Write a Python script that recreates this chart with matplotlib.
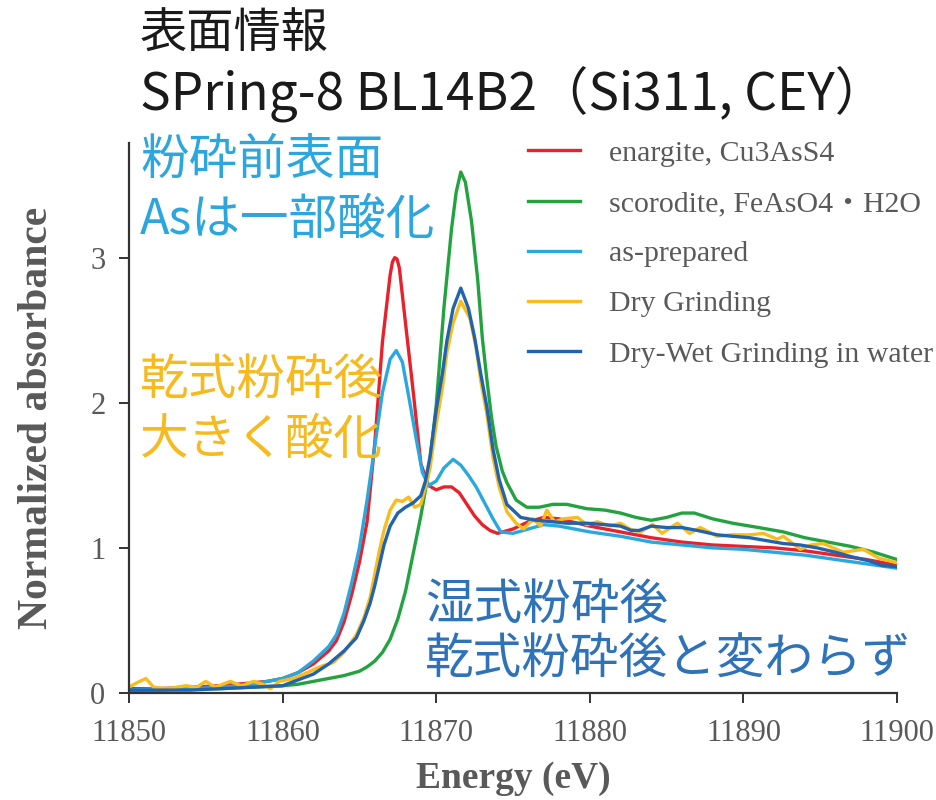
import matplotlib
matplotlib.use("Agg")
import matplotlib.pyplot as plt

# energy (eV) / normalized absorbance
enargite_x = [11850, 11852, 11854, 11856, 11858, 11859, 11860, 11861, 11862, 11863,
              11863.5, 11864, 11864.5, 11865, 11865.5, 11866, 11866.5, 11867, 11867.15, 11867.3,
              11867.45, 11867.6, 11868, 11868.5, 11869, 11869.5, 11870, 11870.5, 11871, 11871.5,
              11872, 11872.5, 11873, 11873.5, 11874, 11875, 11876, 11877, 11878, 11880,
              11882, 11884, 11886, 11888, 11890, 11892, 11894, 11896, 11898, 11900]
enargite_y = [0.03, 0.03, 0.04, 0.05, 0.07, 0.08, 0.10, 0.14, 0.20, 0.29,
              0.36, 0.49, 0.68, 0.90, 1.18, 1.72, 2.42, 2.88, 2.97, 3.00,
              2.99, 2.93, 2.55, 2.08, 1.58, 1.43, 1.40, 1.42, 1.42, 1.38,
              1.30, 1.22, 1.16, 1.12, 1.10, 1.13, 1.18, 1.21, 1.20, 1.15,
              1.11, 1.07, 1.04, 1.02, 1.01, 1.00, 0.98, 0.95, 0.92, 0.88]

scorodite_x = [11850, 11852, 11854, 11856, 11858, 11860, 11861, 11862, 11863, 11864,
               11865, 11865.5, 11866, 11866.5, 11867, 11867.5, 11868, 11868.5, 11869, 11869.5,
               11870, 11870.5, 11871, 11871.3, 11871.6, 11871.9, 11872.3, 11872.7, 11873, 11873.3,
               11873.6, 11873.9, 11874.3, 11874.6, 11875.2, 11875.9, 11876.7, 11877.6, 11878.5, 11879.8,
               11881, 11882, 11883, 11884, 11885, 11886, 11886.8, 11888, 11889.3, 11891,
               11892.6, 11894, 11895.5, 11897, 11898.5, 11900]
scorodite_y = [0.02, 0.02, 0.03, 0.03, 0.04, 0.05, 0.06, 0.08, 0.10, 0.12,
               0.15, 0.18, 0.22, 0.28, 0.37, 0.51, 0.70, 0.96, 1.22, 1.52,
               1.98, 2.65, 3.20, 3.45, 3.59, 3.52, 3.25, 2.85, 2.45, 2.16,
               1.90, 1.70, 1.53, 1.45, 1.33, 1.28, 1.28, 1.30, 1.30, 1.27,
               1.26, 1.24, 1.21, 1.19, 1.21, 1.24, 1.24, 1.20, 1.17, 1.14,
               1.11, 1.07, 1.04, 1.01, 0.97, 0.92]

prepared_x = [11850, 11852, 11854, 11856, 11858, 11859, 11860, 11861, 11862, 11863,
              11863.5, 11864, 11864.5, 11865, 11865.5, 11866, 11866.5, 11867, 11867.4, 11867.8,
              11868.2, 11868.7, 11869.1, 11869.5, 11870, 11870.5, 11871.1, 11871.6, 11872.1, 11872.6,
              11873.2, 11873.7, 11874.2, 11875, 11876, 11877, 11878, 11880, 11882, 11884,
              11886, 11888, 11890, 11892, 11894, 11896, 11898, 11900]
prepared_y = [0.02, 0.03, 0.03, 0.04, 0.06, 0.08, 0.10, 0.14, 0.22, 0.32,
              0.40, 0.55, 0.76, 1.00, 1.33, 1.70, 2.07, 2.30, 2.36, 2.28,
              2.05, 1.75, 1.52, 1.43, 1.46, 1.55, 1.61, 1.57, 1.50, 1.42,
              1.30, 1.20, 1.11, 1.10, 1.13, 1.16, 1.15, 1.11, 1.08, 1.04,
              1.02, 1.00, 0.99, 0.97, 0.95, 0.92, 0.89, 0.86]

dry_x = [11850, 11850.5, 11851.1, 11851.6, 11852.5, 11853.7, 11854.4, 11855, 11855.6, 11856.6,
         11857.3, 11858.1, 11858.7, 11859.2, 11859.8, 11860.7, 11861.6, 11862.4, 11863.3, 11864,
         11864.8, 11865.3, 11865.7, 11866, 11866.3, 11866.6, 11867, 11867.4, 11867.8, 11868.2,
         11868.6, 11869, 11869.3, 11869.6, 11870, 11870.4, 11870.7, 11871.1, 11871.6, 11872.2,
         11872.6, 11872.9, 11873.3, 11873.7, 11874.1, 11874.6, 11875.2, 11875.7, 11876.3, 11876.8,
         11877.2, 11877.7, 11878.3, 11879.2, 11879.8, 11880.5, 11881.3, 11882, 11882.6, 11883.3,
         11884.1, 11884.7, 11885.7, 11886.5, 11887.2, 11888.3, 11889.2, 11890.4, 11891.3, 11892.2,
         11892.6, 11893.7, 11894.4, 11895.2, 11896.5, 11897.8, 11898.8, 11899.9]
dry_y = [0.04, 0.07, 0.10, 0.04, 0.03, 0.05, 0.04, 0.08, 0.04, 0.08,
         0.05, 0.08, 0.06, 0.03, 0.08, 0.10, 0.14, 0.18, 0.21, 0.28,
         0.40, 0.52, 0.66, 0.82, 0.98, 1.12, 1.26, 1.33, 1.32, 1.35,
         1.28, 1.30, 1.42, 1.55, 1.85, 2.10, 2.35, 2.55, 2.70, 2.58,
         2.38, 2.15, 1.92, 1.62, 1.42, 1.25, 1.17, 1.13, 1.20, 1.15,
         1.26, 1.18, 1.20, 1.21, 1.16, 1.18, 1.15, 1.17, 1.13, 1.11,
         1.16, 1.10, 1.17, 1.10, 1.14, 1.08, 1.09, 1.09, 1.10, 1.06,
         1.08, 0.99, 1.02, 1.03, 0.97, 0.99, 0.93, 0.90]

wet_x = [11850, 11852, 11854, 11856, 11858, 11860, 11861, 11862, 11863, 11864,
         11864.8, 11865.3, 11865.7, 11866, 11866.3, 11866.6, 11867, 11867.5, 11868, 11868.5,
         11869, 11869.3, 11869.6, 11870, 11870.4, 11870.7, 11871.1, 11871.6, 11872.1, 11872.5,
         11872.9, 11873.3, 11873.7, 11874.1, 11874.6, 11875.5, 11876.5, 11877.6, 11878.5, 11879.8,
         11881, 11882, 11882.7, 11883.2, 11884, 11885, 11886, 11887, 11888.3, 11889.3,
         11890.4, 11891.5, 11892.6, 11893.7, 11894.8, 11896, 11897, 11898.2, 11899, 11900]
wet_y = [0.02, 0.02, 0.02, 0.03, 0.04, 0.05, 0.09, 0.13, 0.20, 0.29,
         0.38, 0.50, 0.62, 0.74, 0.88, 1.02, 1.15, 1.24, 1.28, 1.31,
         1.36, 1.46, 1.63, 1.95, 2.20, 2.43, 2.65, 2.79, 2.65, 2.45,
         2.20, 1.97, 1.68, 1.47, 1.30, 1.21, 1.19, 1.18, 1.17, 1.17,
         1.16, 1.15, 1.12, 1.12, 1.15, 1.14, 1.14, 1.12, 1.09, 1.08,
         1.07, 1.05, 1.03, 1.02, 1.00, 0.97, 0.94, 0.91, 0.88, 0.87]

labels = ["enargite, Cu3AsS4", "scorodite, FeAsO4\u30fbH2O", "as-prepared",
          "Dry Grinding", "Dry-Wet Grinding in water"]
colors = ["#E8212B", "#22A33F", "#29A8E0", "#F9BC1C", "#2163AE"]

x_ticks = [11850, 11860, 11870, 11880, 11890, 11900]
y_ticks = [0, 1, 2, 3]

serif = "Liberation Serif"
cjk = ["Noto Sans CJK JP", "DejaVu Sans"]
gray = "#595959"

fig = plt.figure(figsize=(9.36, 8), dpi=100)
ax = fig.add_axes([129 / 936, 1 - 693 / 800, (897 - 129) / 936, (693 - 143) / 800])

series = [(enargite_x, enargite_y), (scorodite_x, scorodite_y), (prepared_x, prepared_y),
          (dry_x, dry_y), (wet_x, wet_y)]
for (xs, ys), lab, c in zip(series, labels, colors):
    ax.plot(xs, ys, color=c, lw=2.4, label=lab, solid_joinstyle="round")

ax.set_xlim(11850, 11900)
ax.set_ylim(0, 3.79)
ax.set_xticks(x_ticks)
ax.set_yticks(y_ticks)
ax.spines["top"].set_visible(False)
ax.spines["right"].set_visible(False)
for s in ["left", "bottom"]:
    ax.spines[s].set_linewidth(1.6)
    ax.spines[s].set_color("#333333")
ax.tick_params(direction="out", length=7, width=1.4, color="#333333",
               labelsize=22, labelcolor=gray)
ax.tick_params(axis="x", pad=12)
ax.tick_params(axis="y", pad=10)
for t in ax.get_xticklabels() + ax.get_yticklabels():
    t.set_family(serif)

ax.set_xlabel("Energy (eV)", fontsize=27, fontweight="bold", family=serif, color=gray)
ax.set_ylabel("Normalized absorbance", fontsize=30, fontweight="bold", family=serif, color=gray)
ax.xaxis.set_label_coords(0.5, -(778 - 693) / 550, transform=ax.transAxes)
ax.yaxis.set_label_coords(-(129 - 37) / 768, 0.5, transform=ax.transAxes)
ax.xaxis.label.set_va("center")
ax.yaxis.label.set_va("center")

leg = ax.legend(loc="upper left", bbox_to_anchor=(528 / 936, 1 - 140 / 800),
                bbox_transform=fig.transFigure, frameon=False,
                prop={"family": [serif, "Noto Sans CJK JP"], "size": 21.5},
                handlelength=1.75, handletextpad=0.95, labelspacing=0.78, borderpad=0, borderaxespad=0)
for t in leg.get_texts():
    t.set_color(gray)

# titles and notes
fig.text(140 / 936, 1 - 35 / 800, "表面情報", family=cjk, fontsize=34, va="center", color="#1a1a1a")
fig.text(140 / 936, 1 - 95 / 800, "SPring-8 BL14B2（Si311, CEY）", family=cjk, fontsize=37,
         va="center", color="#1a1a1a")
fig.text(140 / 936, 1 - 160 / 800, "粉砕前表面", family=cjk, fontsize=35, va="center", color="#2BA6DE")
fig.text(140 / 936, 1 - 220 / 800, "Asは一部酸化", family=cjk, fontsize=35, va="center", color="#2BA6DE")
fig.text(140 / 936, 1 - 380 / 800, "乾式粉砕後", family=cjk, fontsize=35, va="center", color="#F7BA1E")
fig.text(140 / 936, 1 - 440 / 800, "大きく酸化", family=cjk, fontsize=35, va="center", color="#F7BA1E")
fig.text(425 / 936, 1 - 605 / 800, "湿式粉砕後", family=cjk, fontsize=35, va="center", color="#2E72B8")
fig.text(425 / 936, 1 - 660 / 800, "乾式粉砕後と変わらず", family=cjk, fontsize=35, va="center",
         color="#2E72B8")

fig.savefig("out.png", dpi=100)
